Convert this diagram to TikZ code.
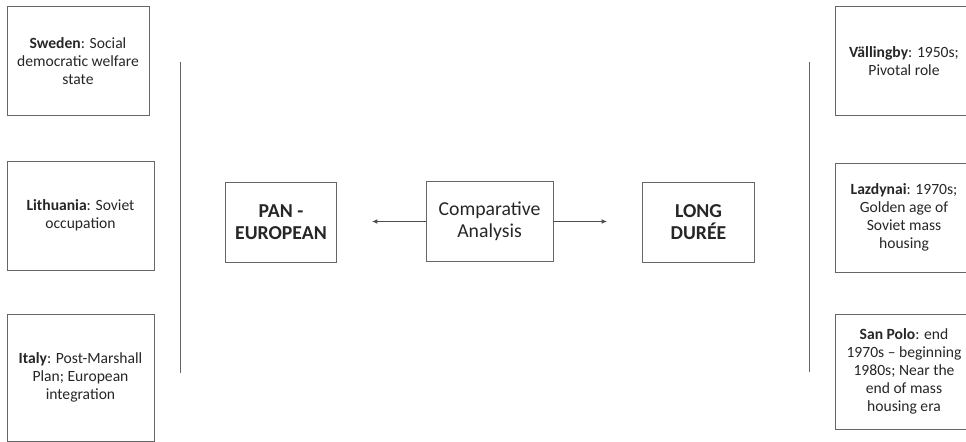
\documentclass[tikz,border=0pt]{standalone}
\usepackage{fontspec}
\setmainfont{Carlito}
\usetikzlibrary{arrows.meta, positioning}
\usepackage{xcolor}

\begin{document}
\begin{tikzpicture}[x=0.75pt, y=-0.75pt]
                    \tikzstyle{casebox} = [
	shape=rectangle,
	draw=black!60, %border of the boxes
	line width=0.75pt,
	text=black!85,
	align=center,
	inner sep=2pt,
	font=\fontsize{11.7}{13.5}\selectfont
];
                    \tikzstyle{mainbox} = [
	casebox,
	minimum width=83.5pt,
	minimum height=60pt,
	font=\fontsize{14.8}{16.5}\selectfont
];
                    \tikzstyle{link} = [
	-{Latex[length=1.4mm,width=1.2mm]},
	line width=0.6pt,
	color=black!70
];

\useasboundingbox (0,0) rectangle (966,442);
\clip (0,0) rectangle (966,442);

%countries
\node[casebox, minimum width=106.5pt, minimum height=81.75pt](Sweden) at (78,61.5)
	{\textbf{Sweden}: Social\\democratic welfare\\state};
\node[casebox, minimum width=110.25pt, minimum height=81.75pt](Lithuania) at (80.5,215.5)
	{\textbf{Lithuania}: Soviet\\occupation};
\node[casebox, minimum width=110.25pt, minimum height=95.25pt](Italy) at (80.5,377.5)
	{\textbf{Italy}: Post-Marshall\\Plan; European\\integration};

%cases
\node[casebox, minimum width=103.5pt, minimum height=81.75pt](Vallingby) at (904,61.5)
	{\textbf{Vällingby}: 1950s;\\Pivotal role};
\node[casebox, minimum width=103.5pt, minimum height=81.75pt](Lazdynai) at (904,217.5)
	{\textbf{Lazdynai}: 1970s;\\Golden age of\\Soviet mass\\housing};
\node[casebox, minimum width=103.5pt, minimum height=86.25pt](SanPolo) at (904,371.5)
	{\textbf{San Polo}: end\\1970s -- beginning\\1980s; Near the\\end of mass\\housing era};

%centre
\node[mainbox](Pan) at (281,222) {\textbf{PAN -}\\\textbf{EUROPEAN}};
\node[mainbox, minimum width=95.25pt](Comp) at (489.5,221.5) {Comparative\\Analysis};
\node[mainbox](Long) at (698.5,222) {\textbf{LONG}\\\textbf{DURÉE}};

\coordinate (ltop) at (180,62);
\coordinate (lbot) at (180,373);
\coordinate (rtop) at (809,62);
\coordinate (rbot) at (809,372);
\coordinate (lend) at (372,221.5);
\coordinate (rend) at (607,221.5);

%dividers
\draw[line width=0.75pt, color=black!60] (ltop) -- (lbot);
\draw[line width=0.75pt, color=black!60] (rtop) -- (rbot);

%arrows
\draw[link] (Comp.west) -- (lend);
\draw[link] (Comp.east) -- (rend);

                \end{tikzpicture}
\end{document}
